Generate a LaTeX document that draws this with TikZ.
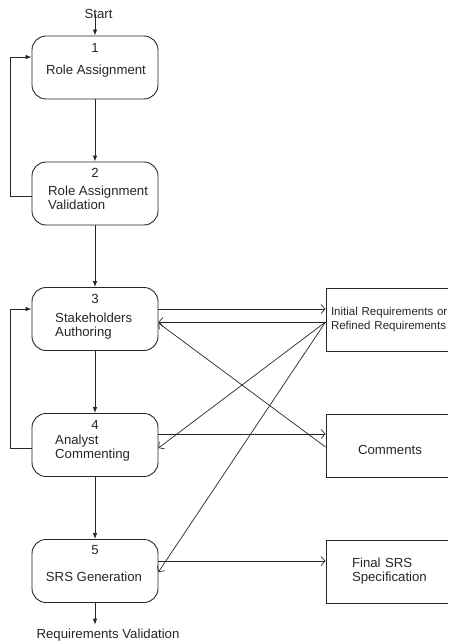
\documentclass[tikz,border=0pt]{standalone}
\usepackage{fontspec}
\setmainfont{Liberation Sans}
\usetikzlibrary{arrows.meta,positioning}
\definecolor{ink}{HTML}{262626}
\tikzset{
    stage-box/.style = {draw=ink, line width=0.9pt, rectangle, rounded corners=14pt, minimum width=126pt, minimum height=63pt},
    store-box/.style = {draw=ink, line width=0.9pt, rectangle, minimum width=128pt, minimum height=63pt, text=ink},
    stage-num/.style = {text=ink, inner sep=0pt},
    stage-text/.style = {text=ink, align=left, inner sep=0pt},
    flow-arrow/.style = {draw=ink, line width=0.8pt, -{Latex[length=6pt,width=4.5pt]}},
    data-arrow/.style = {draw=ink, line width=0.7pt, -{Straight Barb[length=4pt,width=9pt]}},
}

\begin{document}
\begin{tikzpicture}[x=1pt, y=-1pt, font=\fontsize{13.2}{14}\selectfont]
\useasboundingbox (0,0) rectangle (448,644);
\clip (0,0) rectangle (448,644);

% process steps
\node [stage-box] (s1) at (95,67.5) {};
\node [stage-box] (s2) at (95,193.5) {};
\node [stage-box] (s3) at (95,319) {};
\node [stage-box] (s4) at (95,445) {};
\node [stage-box] (s5) at (95,571) {};

\node [stage-num] (n1) at ([yshift=-12pt]s1.north) {1};
\node [stage-num] (n2) at ([yshift=-11pt]s2.north) {2};
\node [stage-num] (n3) at ([yshift=-12pt]s3.north) {3};
\node [stage-num] (n4) at ([yshift=-12pt]s4.north) {4};
\node [stage-num] (n5) at ([yshift=-11pt]s5.north) {5};

\node [stage-text] (t1) at (96,71) {Role Assignment};
\node [stage-text, anchor=west] (t2) at (48,198) {Role Assignment\\Validation};
\node [stage-text, anchor=west] (t3) at (55,326.5) {Stakeholders\\Authoring};
\node [stage-text, anchor=west] (t4) at (55,448) {Analyst\\Commenting};
\node [stage-text] (t5) at (94,577) {SRS Generation};

\node [stage-num] (start) at (98.5,14) {Start};
\node [stage-num] (end) at (108,635) {Requirements Validation};

% artefacts
\node [store-box, align=left, text width=118pt, inner xsep=5pt, font=\fontsize{11.5}{14}\selectfont] (req) at (390,319.5) {Initial Requirements or\\Refined Requirements};
\node [store-box, text height=18pt] (com) at (390,445.5) {Comments};
\node [store-box, align=left, text width=76pt, inner xsep=26pt] (srs) at (390,571.5) {Final SRS\\Specification};

% main flow
\draw [flow-arrow] (start.center -| s1.north) -- (s1.north);
\draw [flow-arrow] (s1) -- (s2);
\draw [flow-arrow] (s2) -- (s3);
\draw [flow-arrow] (s3) -- (s4);
\draw [flow-arrow] (s4) -- (s5);
\draw [flow-arrow, shorten >=4pt] (s5.south) -- (s5.south |- end.north);

% loops back
\draw [flow-arrow] ([yshift=-2.5pt]s2.west) -- ++(-21,0) |- ([yshift=10.5pt]s1.west);
\draw [flow-arrow] ([yshift=-3pt]s4.west) -- ++(-21,0) |- ([yshift=10pt]s3.west);

% documents
\coordinate (req-out) at ([yshift=-2.5pt]req.west);
\draw [data-arrow] ([yshift=10pt]s3.east) -- ([yshift=10pt]s3.east -| req.west);
\draw [data-arrow] (req-out) -- (req-out -| s3.east);
\draw [data-arrow] (req-out) -- ([yshift=-3pt]s4.east);
\draw [data-arrow] (req-out) -- ([yshift=-1pt]s5.east);
\draw [data-arrow] ([yshift=-1.5pt]com.west) -- ([yshift=-4pt]s3.east);
\draw [data-arrow] ([yshift=11pt]s4.east) -- ([yshift=11pt]s4.east -| com.west);
\draw [data-arrow] ([yshift=10pt]s5.east) -- ([yshift=10pt]s5.east -| srs.west);
\end{tikzpicture}
\end{document}
